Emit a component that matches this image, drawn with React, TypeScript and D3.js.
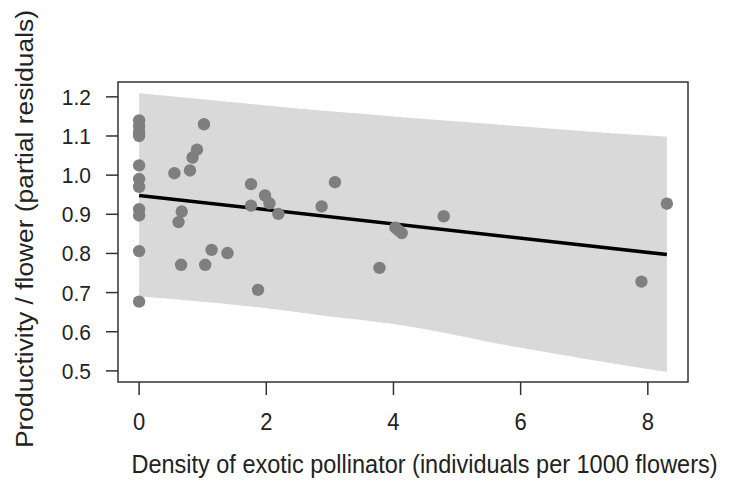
import React from "react";
import * as d3 from "d3";

const pointX = [0, 0, 0, 0, 0, 0, 0, 0, 0, 0, 0, 1.02, 0.91, 0.84, 0.8, 0.555, 0.67, 0.62, 1.76, 1.98, 2.05, 1.76, 2.19, 3.08, 2.87, 1.14, 1.39, 1.87, 0.66, 1.04, 4.79, 4.03, 4.13, 4.08, 3.78, 7.9, 8.3];
const pointY = [1.14, 1.125, 1.11, 1.1, 1.025, 0.99, 0.97, 0.913, 0.897, 0.806, 0.677, 1.13, 1.065, 1.045, 1.012, 1.005, 0.907, 0.88, 0.977, 0.948, 0.928, 0.922, 0.901, 0.982, 0.92, 0.809, 0.801, 0.707, 0.771, 0.771, 0.895, 0.866, 0.852, 0.859, 0.763, 0.728, 0.927];

const fitX = [0, 8.3];
const fitY = [0.948, 0.797];

const bandX = [0, 2, 3, 4, 6, 8, 8.3];
const bandLower = [0.69, 0.66, 0.639, 0.62, 0.559, 0.505, 0.498];
const bandUpper = [1.209, 1.178, 1.163, 1.15, 1.125, 1.101, 1.098];

const xTicks = [0, 2, 4, 6, 8];
const yTicks = [0.5, 0.6, 0.7, 0.8, 0.9, 1.0, 1.1, 1.2];

const xTitle = "Density of exotic pollinator (individuals per 1000 flowers)";
const yTitle = "Productivity / flower (partial residuals)";

const W = 732;
const H = 491;
const box = { left: 118, right: 688, top: 82, bottom: 382 };

export default function App() {
  const x = d3.scaleLinear().domain([-0.332, 8.632]).range([box.left, box.right]);
  const y = d3.scaleLinear().domain([0.4716, 1.2379]).range([box.bottom, box.top]);

  const band = d3
    .area<number>()
    .x((_, i) => x(bandX[i]))
    .y0((_, i) => y(bandLower[i]))
    .y1((_, i) => y(bandUpper[i]))
    .curve(d3.curveMonotoneX)(bandX);

  const fit = d3
    .line<number>()
    .x((_, i) => x(fitX[i]))
    .y((_, i) => y(fitY[i]))(fitX);

  const font = "'Liberation Sans', Arial, sans-serif";
  const tickColor = "#222";

  return (
    <svg
      width={W}
      height={H}
      style={{ position: "absolute", left: 0, top: 0, background: "#fff" }}
      fontFamily={font}
    >
      <path d={band ?? ""} fill="#d9d9d9" />
      <path d={fit ?? ""} fill="none" stroke="#000" strokeWidth={3.5} />
      {pointX.map((px, i) => (
        <circle key={i} cx={x(px)} cy={y(pointY[i])} r={6.2} fill="#7f7f7f" />
      ))}
      <rect
        x={box.left}
        y={box.top}
        width={box.right - box.left}
        height={box.bottom - box.top}
        fill="none"
        stroke="#333"
        strokeWidth={1.5}
      />
      {xTicks.map((t) => (
        <g key={"x" + t}>
          <line x1={x(t)} x2={x(t)} y1={box.bottom} y2={box.bottom + 13} stroke="#333" strokeWidth={1.5} />
          <text
            x={x(t)}
            y={430}
            textAnchor="middle"
            fontSize={22}
            fill={tickColor}
            transform={`translate(0,430) scale(1,1.08) translate(0,-430)`}
          >
            {t}
          </text>
        </g>
      ))}
      {yTicks.map((t) => (
        <g key={"y" + t}>
          <line x1={box.left - 12} x2={box.left} y1={y(t)} y2={y(t)} stroke="#333" strokeWidth={1.5} />
          <text
            x={91}
            y={y(t) + 8}
            textAnchor="end"
            fontSize={21}
            fill={tickColor}
            transform={`translate(0,${y(t) + 8}) scale(1,1.08) translate(0,${-(y(t) + 8)})`}
          >
            {d3.format(".1f")(t)}
          </text>
        </g>
      ))}
      <text
        x={424.5}
        y={473}
        textAnchor="middle"
        fontSize={23.5}
        fill={tickColor}
        transform="translate(0,473) scale(1,1.1) translate(0,-473)"
      >
        {xTitle}
      </text>
      <text
        transform="translate(33,229) rotate(-90)"
        textAnchor="middle"
        fontSize={23.5}
        fill={tickColor}
        textLength={438}
        lengthAdjust="spacingAndGlyphs"
      >
        {yTitle}
      </text>
    </svg>
  );
}
